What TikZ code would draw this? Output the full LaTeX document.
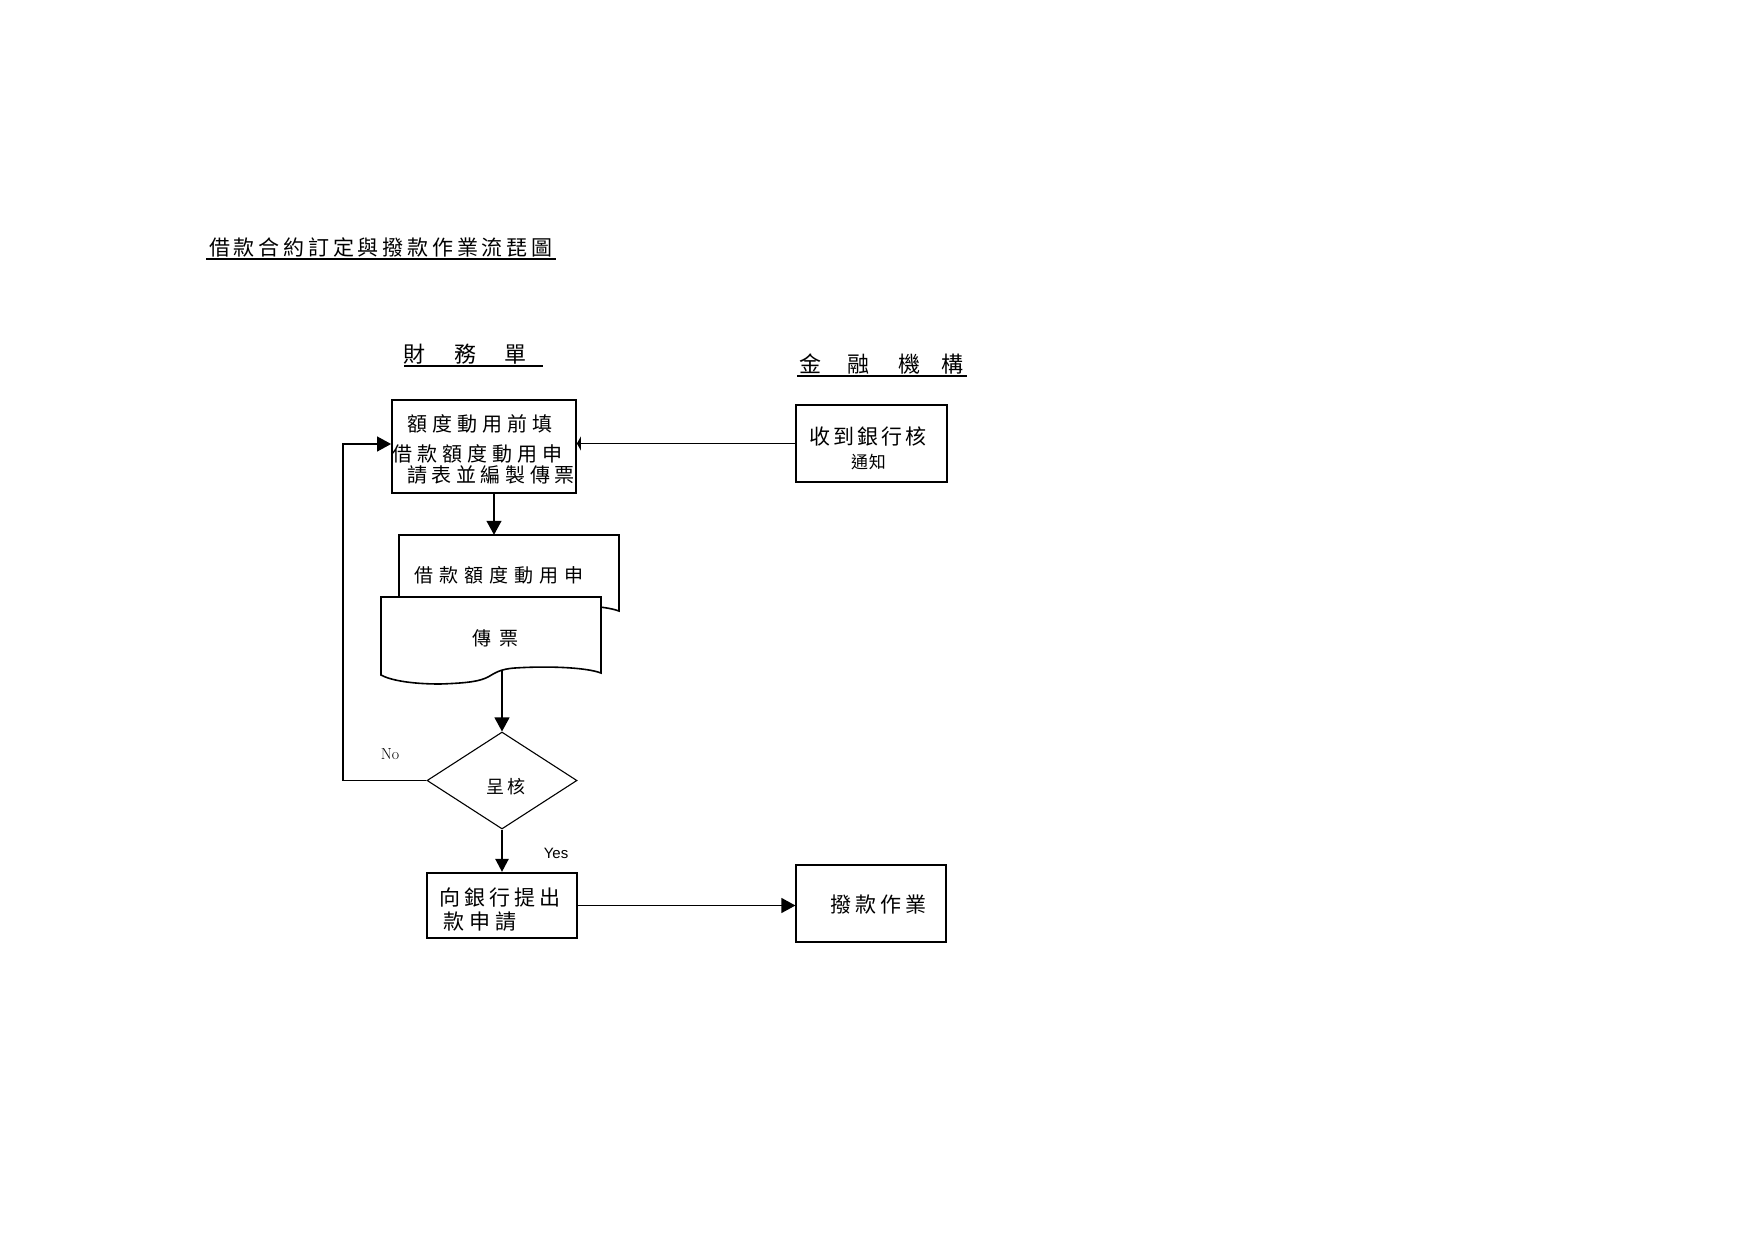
\documentclass[tikz,border=0pt]{standalone}
\usepackage{fontspec}
\newfontfamily\cjk{Noto Sans CJK TC}
\newfontfamily\arialf{Liberation Sans}
\usetikzlibrary{arrows.meta,shapes.geometric}
\newcommand{\cj}[2]{\cjk\fontsize{#1}{#1}\selectfont\addfontfeature{LetterSpace=#2}}
\begin{document}
\begin{tikzpicture}[x=1pt,y=-1pt,
  t/.style={inner sep=0,anchor=west},
  box/.style={draw,inner sep=0,fill=white},
  arr/.style={-{Triangle[length=14pt,width=15pt]},line width=1.2pt},
  ul/.style={line width=1.4pt}]
\useasboundingbox[fill=white] (0,0) rectangle (1755,1241);
% title
\node[t,font=\cj{21}{18}] (title) at (209,247) {借款合約訂定與撥款作業流琵圖};
\draw[ul] (206,259) -- (556,259);
% column headers
\node[t,font=\cj{22}{0}] (h1) at (403,354) {財\hspace{29pt}務\hspace{28pt}單};
\draw[ul] (404,366) -- (543,366);
\node[t,font=\cj{22}{0}] (h2) at (799,364) {金\hspace{26pt}融\hspace{29pt}機\hspace{21pt}構};
\draw[ul] (797,376) -- (967,376);
% box 1
\node[box,line width=1.8pt,minimum width=184,minimum height=93] (b1) at (484,446.5) {};
\node[t,font=\cj{20}{25}] (b1a) at (407,424) {額度動用前填};
\node[t,font=\cj{20}{25}] (b1b) at (392,454) {借款額度動用申};
\node[t,font=\cj{20}{23}] (b1c) at (407,475) {請表並編製傳票};
% box 2
\node[box,line width=1.8pt,minimum width=151,minimum height=77] (b2) at (871.5,443.5) {};
\node[t,font=\cj{21}{15}] (b2a) at (809,437) {收到銀行核};
\node[t,font=\cj{17}{4}] (b2b) at (851,462) {通知};
% documents
\node[inner sep=0,minimum width=220,minimum height=76] (docB) at (509,573) {};
\node[inner sep=0,minimum width=220,minimum height=76] (docF) at (491,635) {};
\begin{scope}[shift={(18,-62)}]
\draw[line width=1.6pt,fill=white] (381,597) -- (601,597) -- (601,673)
  .. controls (585,667) and (545,666) .. (515,668)
  .. controls (500,669) and (495,673) .. (488,677)
  .. controls (480,681) and (470,683) .. (440,684)
  .. controls (410,684) and (390,680) .. (381,675) -- cycle;
\end{scope}
\node[t,font=\cj{19}{32}] (d2t) at (414,575) {借款額度動用申};
\draw[line width=1.6pt,fill=white] (381,597) -- (601,597) -- (601,673)
  .. controls (585,667) and (545,666) .. (515,668)
  .. controls (500,669) and (495,673) .. (488,677)
  .. controls (480,681) and (470,683) .. (440,684)
  .. controls (410,684) and (390,680) .. (381,675) -- cycle;
\node[t,font=\cj{19}{42}] (d1t) at (472,638) {傳票};
% decision
\node[draw,shape=diamond,inner sep=0,line width=1.1pt,minimum width=150,minimum height=97] (dia) at (502,780.5) {};
\node[t,font=\cj{18}{17}] (diat) at (486,787) {呈核};
% box 3
\node[box,line width=2.2pt,minimum width=150,minimum height=65] (b3) at (502,905.5) {};
\node[t,font=\cj{21}{19}] (b3a) at (439,898) {向銀行提出};
\node[t,font=\cj{21}{24}] (b3b) at (443,922) {款申請};
% box 4
\node[box,line width=1.2pt,minimum width=150,minimum height=77] (b4) at (871,903.5) {};
\node[t,font=\cj{21}{20}] (b4a) at (830,905) {撥款作業};
% labels
\node[inner sep=0,font=\fontsize{16}{16}\selectfont] (no) at (390,754) {No};
\node[inner sep=0,font=\arialf\fontsize{15}{15}\selectfont] (yes) at (556,853) {Yes};
% connectors
\coordinate (x494) at (494,0);
\coordinate (w1) at (502,670);
\coordinate (lx) at (343,0);
\draw[arr] (b1.south -| x494) -- (docB.north -| x494);
\draw[arr] (w1) -- (dia.north);
\draw[arr,line width=2.4pt,-{Triangle[length=13pt,width=13pt]}] (dia.south) -- (dia.south |- b3.north);
\draw[arr] (dia.west) -- (dia.west -| lx) -- ([yshift=2.5pt]b1.west -| lx) -- ([yshift=2.5pt]b1.west);
\draw[line width=1.4pt,-{Triangle[length=4pt,width=14pt]}] (b2.west) -- (b2.west -| b1.east);
\draw[arr] (b3.east) -- (b3.east -| b4.west);
\end{tikzpicture}
\end{document}
